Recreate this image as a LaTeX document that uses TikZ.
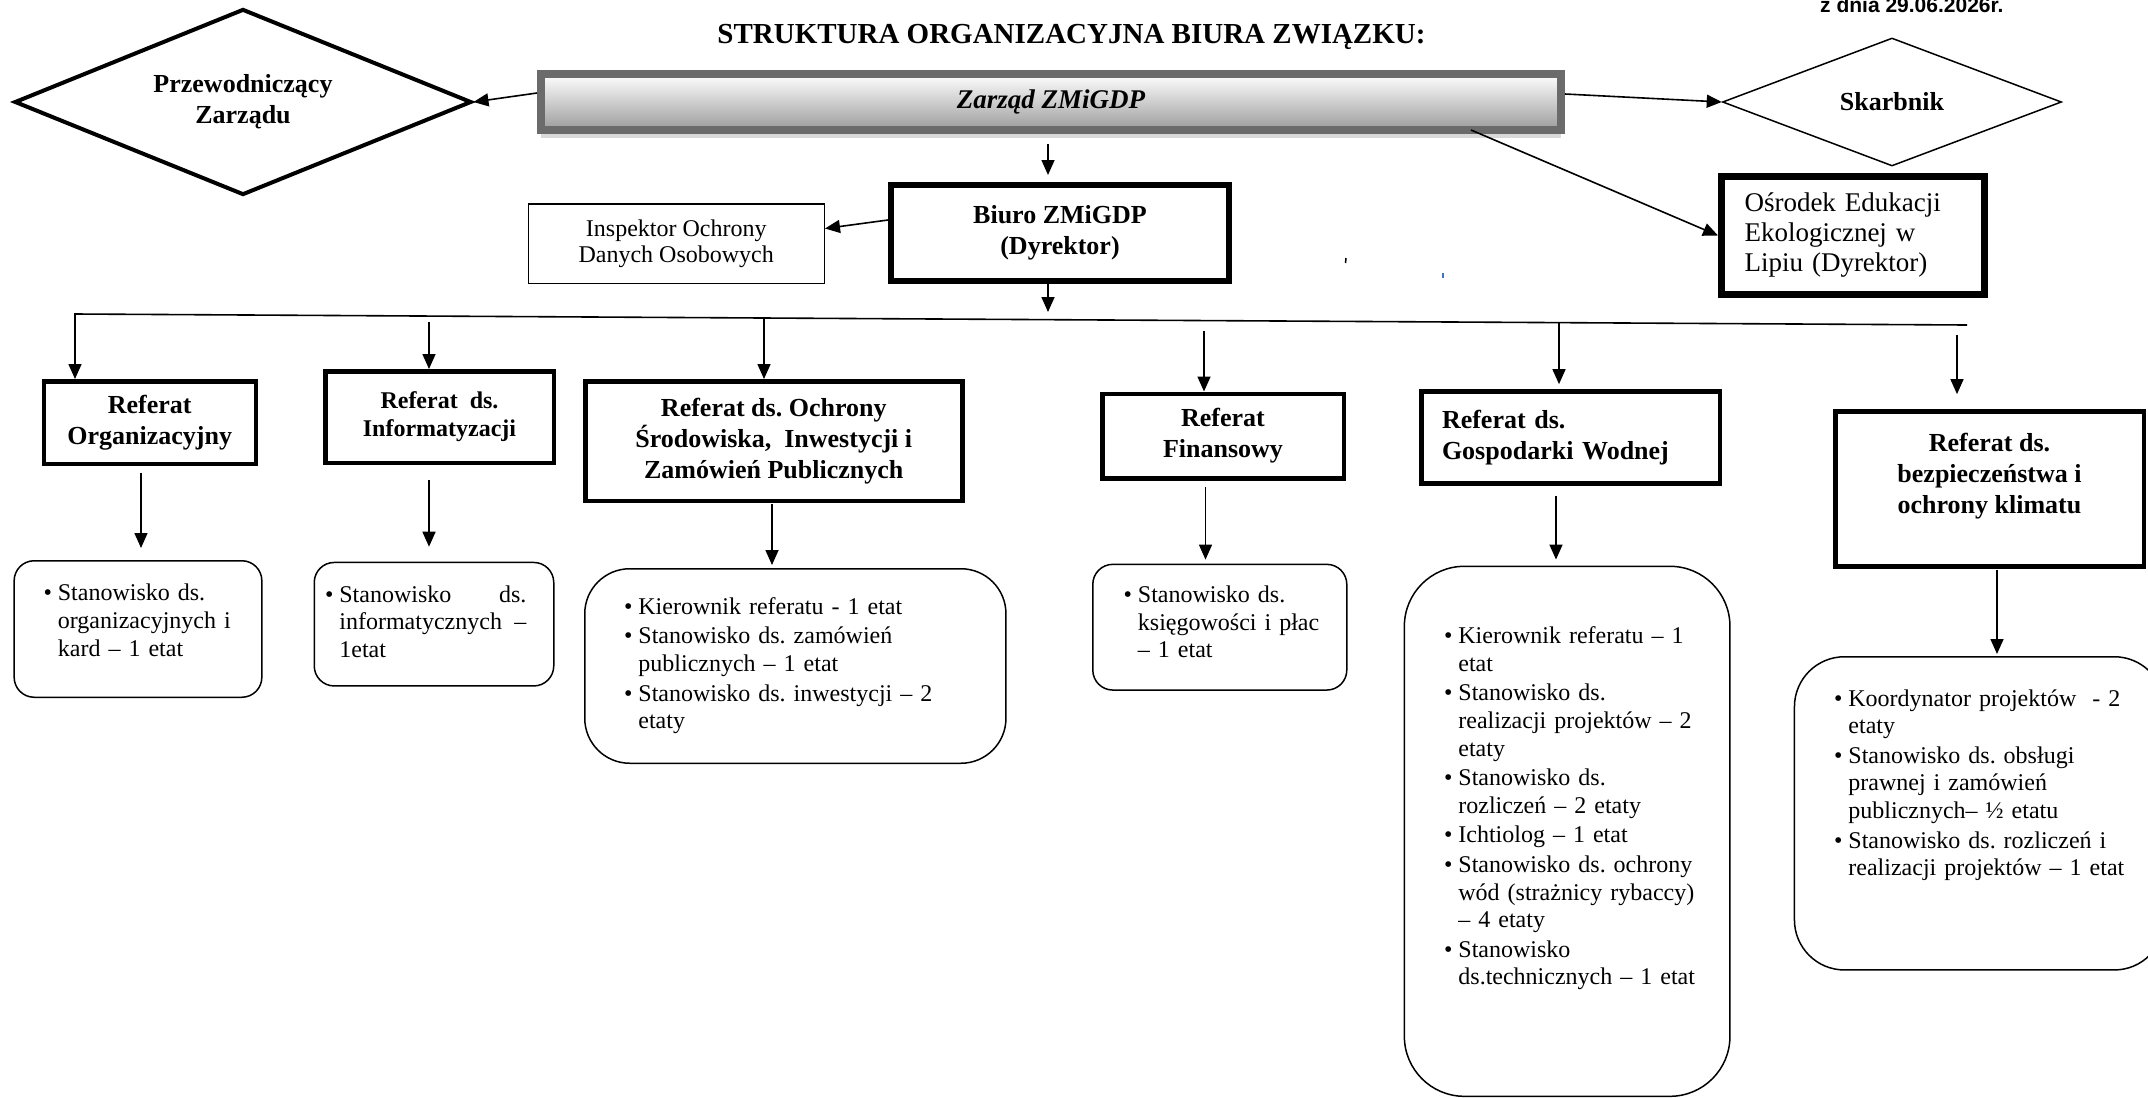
\documentclass[tikz,border=0pt]{standalone}
\usepackage{fontspec}
\setmainfont{Liberation Serif}
\newfontfamily\datafont{Liberation Sans}
\usetikzlibrary{shapes.geometric,arrows.meta,shadows}
\definecolor{ramka}{HTML}{6B6B6B}
\definecolor{cien}{HTML}{9C9C9C}
\definecolor{niebieski}{HTML}{4472C4}
\newcommand{\lista}[1]{\begin{tabular}[t]{@{}l@{\hspace{6pt}}l@{}}#1\end{tabular}}

\begin{document}
\frenchspacing
\begin{tikzpicture}[x=1pt,y=-1pt]
  \tikzstyle{every node}=[font=\fontsize{24}{27.6}\selectfont, inner sep=0pt]
  \tikzstyle{kop}=[draw, line width=4.5pt, align=center, font=\fontsize{26}{31}\selectfont\bfseries]
  \tikzstyle{lst}=[draw, line width=1.5pt, align=left]
  \tikzstyle{pijl}=[line width=1.6pt, -{Triangle[length=15pt,width=13pt]}]

  \useasboundingbox (0,0) rectangle (2148,1098);

  \node [anchor=base, font=\fontsize{29}{34}\selectfont\bfseries] (tytul) at (1071.5,43) {STRUKTURA ORGANIZACYJNA BIURA ZWIĄZKU:};
  \node [anchor=base west, font=\datafont\fontsize{21}{25}\selectfont\bfseries] (data) at (1820,12) {z dnia 29.06.2026r.};

  \node [draw, diamond, aspect=2.46, line width=4pt, minimum width=457pt, minimum height=186pt, align=center,
    font=\fontsize{26}{31}\selectfont\bfseries] (przew) at (243,102) {Przewodniczący\\Zarządu};
  \node [draw=ramka, line width=8pt, top color=white, bottom color=cien, minimum width=1020pt, minimum height=56pt,
    drop shadow={opacity=.3, shadow xshift=0pt, shadow yshift=-8pt},
    font=\fontsize{27}{32}\selectfont\bfseries\itshape] (zarzad) at (1051,102) {Zarząd ZMiGDP};
  \node [draw, diamond, aspect=2.65, line width=1.5pt, minimum width=339pt, minimum height=128pt,
    font=\fontsize{26}{31}\selectfont\bfseries] (skarbnik) at (1892,102) {Skarbnik};

  \node [kop, line width=6pt, minimum width=338pt, minimum height=96pt] (biuro) at (1060,233) {Biuro ZMiGDP\\(Dyrektor)};
  \node [draw, line width=1.5pt, minimum width=296pt, minimum height=79.5pt, align=center,
    font=\fontsize{24}{26}\selectfont] (inspektor) at (676.25,243.5) {Inspektor Ochrony\\Danych Osobowych};
  \node [draw, line width=7pt, text width=217pt, inner xsep=23pt, minimum height=118pt, align=left,
    font=\fontsize{27}{30}\selectfont] (osrodek) at (1853,235.5) {Ośrodek Edukacji\\Ekologicznej w\\Lipiu (Dyrektor)};

  \node [kop, minimum width=212pt, minimum height=82.5pt] (org) at (149.75,422.5) {Referat\\Organizacyjny};
  \node [kop, minimum width=228.5pt, minimum height=91.5pt, font=\fontsize{24}{28}\selectfont\bfseries] (inf) at (439.5,417) {Referat~ ds.\\Informatyzacji};
  \node [kop, minimum width=377pt, minimum height=119.5pt] (ochr) at (773.75,441) {Referat ds. Ochrony\\Środowiska,~ Inwestycji i\\Zamówień Publicznych};
  \node [kop, minimum width=241.5pt, minimum height=84.5pt] (fin) at (1223,436) {Referat\\Finansowy};
  \node [kop, align=left, text width=257pt, inner xsep=20.75pt, minimum height=92pt] (gosp) at (1570.5,437.4) {Referat ds.\\Gospodarki Wodnej};
  \node [kop, minimum width=308.5pt, minimum height=155pt] (bezp) at (1989.5,488.9) {Referat ds.\\bezpieczeństwa i\\ochrony klimatu\\\mbox{}};

  \node [lst, rounded corners=20pt, text width=189pt, inner xsep=29.35pt, minimum height=136.5pt] (orgl) at (138,629)
    {\lista{\textbullet & Stanowisko ds.\\ & organizacyjnych i\\ & kard – 1 etat\\[12pt]}};
  \node [lst, rounded corners=20pt, text width=218pt, inner xsep=10.75pt, minimum height=123.5pt] (infl) at (434,624.2)
    {\lista{\textbullet & \makebox[187pt]{Stanowisko\hfill ds.}\\ & \makebox[187pt]{informatycznych\hfill –}\\ & 1etat}};
  \node [lst, rounded corners=45pt, text width=342.7pt, inner xsep=39.25pt, minimum height=194.5pt] (ochrl) at (795.35,666)
    {\lista{\textbullet & Kierownik referatu - 1 etat\\[2pt] \textbullet & Stanowisko ds. zamówień\\ & publicznych – 1 etat\\[2pt]
      \textbullet & Stanowisko ds. inwestycji – 2\\ & etaty}};
  \node [lst, rounded corners=20pt, text width=192.5pt, inner xsep=30.75pt, minimum height=125.7pt] (finl) at (1219.8,627.2)
    {\lista{\textbullet & Stanowisko ds.\\ & księgowości i płac\\ & – 1 etat\\[4.7pt]}};
  \node [lst, rounded corners=60pt, text width=246.3pt, inner xsep=39.65pt, minimum height=530pt] (gospl) at (1567.15,831.3)
    {\lista{\textbullet & Kierownik referatu – 1\\ & etat\\[2pt] \textbullet & Stanowisko ds.\\ & realizacji projektów – 2\\ & etaty\\[2pt]
      \textbullet & Stanowisko ds.\\ & rozliczeń – 2 etaty\\[2pt] \textbullet & Ichtiolog – 1 etat\\[2pt]
      \textbullet & Stanowisko ds. ochrony\\ & wód (strażnicy rybaccy)\\ & – 4 etaty\\[2pt]
      \textbullet & Stanowisko\\ & ds.technicznych – 1 etat\\[45pt]}};
  \node [lst, rounded corners=50pt, text width=290.7pt, inner xsep=39.55pt, minimum height=313.2pt] (bezpl) at (1979.35,813.35)
    {\lista{\textbullet & Koordynator projektów~ - 2\\ & etaty\\[2pt] \textbullet & Stanowisko ds. obsługi\\ & prawnej i zamówień\\ & publicznych– ½ etatu\\[2pt]
      \textbullet & Stanowisko ds. rozliczeń i\\ & realizacji projektów – 1 etat\\[56pt]}};

  \coordinate (lijnL) at (75,314);
  \coordinate (lijnR) at (1967,325);
  \coordinate (biuroT) at (1048,312);
  \coordinate (infT) at (429,322);
  \coordinate (ochrT) at (764,318);
  \coordinate (finT) at (1204,330.5);
  \coordinate (gospT) at (1559,322.6);
  \coordinate (bezpT) at (1957,334.6);
  \coordinate (orgD) at (141,0);
  \coordinate (infD) at (429,0);
  \coordinate (ochrD) at (772,0);
  \coordinate (finD) at (1205.5,0);
  \coordinate (gospD) at (1556,0);
  \coordinate (bezpD) at (1997,0);

  \draw [pijl] ([yshift=9pt]zarzad.west) -- (przew.east);
  \draw [pijl] ([yshift=8pt]zarzad.east) -- (skarbnik.west);
  \draw [pijl] ([xshift=420pt,yshift=4pt]zarzad.south) -- (osrodek.west);
  \draw [pijl, shorten <=10pt, shorten >=7pt] (zarzad.south -| biuroT) -- (biuro.north -| biuroT);
  \draw [pijl] ([yshift=13pt]biuro.west) -- ([yshift=15pt]inspektor.east);
  \draw [pijl] (biuro.south -| biuroT) -- (biuroT);

  \draw [pijl] (lijnR) -- (lijnL) -- (lijnL |- org.north);
  \draw [pijl] (infT) -- (infT |- inf.north);
  \draw [pijl] (ochrT) -- (ochrT |- ochr.north);
  \draw [pijl] (finT) -- (finT |- fin.north);
  \draw [pijl, shorten >=5pt] (gospT) -- (gospT |- gosp.north);
  \draw [pijl, shorten >=15pt] (bezpT) -- (bezpT |- bezp.north);

  \draw [pijl, shorten <=6.7pt, shorten >=12pt] (org.south -| orgD) -- (orgl.north -| orgD);
  \draw [pijl, shorten <=15pt, shorten >=15pt] (inf.south -| infD) -- (infl.north -| infD);
  \draw [pijl, shorten <=1pt, shorten >=3pt] (ochr.south -| ochrD) -- (ochrl.north -| ochrD);
  \draw [pijl, shorten <=6.4pt, shorten >=4pt] (fin.south -| finD) -- (finl.north -| finD);
  \draw [pijl, shorten <=10pt, shorten >=6pt] (gosp.south -| gospD) -- (gospl.north -| gospD);
  \draw [pijl, shorten <=1pt, shorten >=2pt] (bezp.south -| bezpD) -- (bezpl.north -| bezpD);

  \draw [line width=1.5pt] (1346,258) -- (1345.5,263);
  \draw [niebieski, line width=1.5pt] (1443,273) -- (1443,278);
\end{tikzpicture}
\end{document}
